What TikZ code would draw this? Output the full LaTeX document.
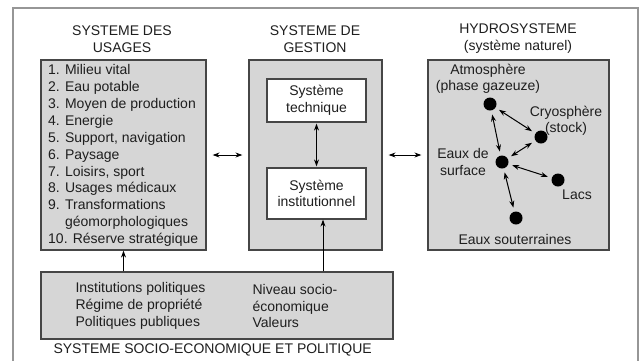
\documentclass[tikz,border=0pt]{standalone}
\usepackage{fontspec}
\setmainfont{Liberation Sans}
\usepackage{xcolor}
\definecolor{hsfill}{RGB}{214,214,214}
\definecolor{hsline}{RGB}{70,70,70}
\definecolor{hsframe}{RGB}{150,150,150}
\definecolor{hstext}{RGB}{30,30,30}
\usetikzlibrary{arrows.meta,positioning}
\tikzset{
  sysbox/.style={draw=hsline, fill=hsfill, line width=1.2pt, inner sep=0pt},
  subbox/.style={draw=hsline, fill=white, line width=1.2pt, align=center, minimum width=99pt, font=\fontsize{14}{16.5}\selectfont},
  ttl/.style={align=center, font=\fontsize{14}{17}\selectfont},
  lbl/.style={align=center, font=\fontsize{14}{16.5}\selectfont},
  dot/.style={circle, fill=black, minimum size=13pt, inner sep=0pt},
  arr/.style={-{Stealth[length=7pt,width=5pt]}, line width=1pt, draw=black},
  dbl/.style={{Stealth[length=7pt,width=5pt]}-{Stealth[length=7pt,width=5pt]}, line width=1pt, draw=black}
}
\begin{document}
\begin{tikzpicture}[x=1pt, y=-1pt, every node/.style={text=hstext}]
  \useasboundingbox (0,0) rectangle (639,360);
  \draw[hsframe, line width=1.2pt] (13,372) -- (13,8) -- (638,8) -- (638,372);
  % titles
  \node[ttl] (t1) at (122,39) {SYSTEME DES\\USAGES};
  \node[ttl] (t2) at (315,39) {SYSTEME DE\\GESTION};
  \node[ttl] (t3) at (518,39) {HYDROSYSTEME\\(système naturel)};
  \node[ttl, anchor=west] (t4) at (50,350) {SYSTEME SOCIO-ECONOMIQUE ET POLITIQUE};
  % usages
  \node[sysbox, minimum width=165pt, minimum height=190pt] (usa) at (123.5,155) {};
  \node[lbl, align=left, anchor=west, inner sep=0pt, font=\fontsize{14}{16.9}\selectfont] (list) at (48,155.5) {1. Milieu vital\\2. Eau potable\\3. Moyen de production\\4. Energie\\5. Support, navigation\\6. Paysage\\7. Loisirs, sport\\8. Usages médicaux\\9. Transformations\\\phantom{9. }géomorphologiques\\10. Réserve stratégique};
  % gestion
  \node[sysbox, minimum width=133pt, minimum height=190pt] (ges) at (315.5,155) {};
  \node[subbox, minimum height=43pt] (tech) at (316.5,100.5) {Système\\technique};
  \node[subbox, minimum height=51pt] (inst) at (316.5,193.5) {Système\\institutionnel};
  % hydrosysteme
  \node[sysbox, minimum width=181pt, minimum height=190pt] (hyd) at (518.5,155) {};
  \node[dot] (atm) at (490,104) {};
  \node[dot] (cryo) at (541,137) {};
  \node[dot] (surf) at (502,162) {};
  \node[dot] (lacs) at (558,180) {};
  \node[dot] (sout) at (516,218) {};
  \node[lbl] (latm) at (488,79) {Atmosphère\\(phase gazeuze)};
  \node[lbl] (lcryo) at (566,121) {Cryosphère\\(stock)};
  \node[lbl] (lsurf) at (463,162) {Eaux de\\surface};
  \node[lbl] (llacs) at (577,195) {Lacs};
  \node[lbl] (lsout) at (515,239) {Eaux souterraines};
  % socio-economique
  \node[sysbox, minimum width=352pt, minimum height=67pt] (soc) at (217,305.5) {};
  \node[lbl, align=left, anchor=west, font=\fontsize{14}{16.8}\selectfont] (pol) at (72,306) {Institutions politiques\\Régime de propriété\\Politiques publiques};
  \node[lbl, align=left, anchor=west, font=\fontsize{14}{16.8}\selectfont] (eco) at (249,306) {Niveau socio-\\économique\\Valeurs};
  % connectors
  \draw[dbl, shorten <=6pt, shorten >=6pt] (usa.east) -- (ges.west);
  \draw[dbl, shorten <=6pt, shorten >=6pt] (ges.east) -- (hyd.west);
  \draw[dbl, shorten <=1pt, shorten >=1pt] (tech) -- (inst);
  \draw[arr] (soc.north -| usa) -- (usa.south);
  \draw[arr] (soc.north -| 323,0) -- (inst.south -| 323,0);
  \draw[dbl, shorten <=4pt, shorten >=4pt] (atm) -- (surf);
  \draw[dbl, shorten <=4pt, shorten >=4pt] (atm) -- (cryo);
  \draw[dbl, shorten <=4pt, shorten >=4pt] (cryo) -- (surf);
  \draw[dbl, shorten <=4pt, shorten >=4pt] (surf) -- (lacs);
  \draw[dbl, shorten <=4pt, shorten >=4pt] (surf) -- (sout);
\end{tikzpicture}
\end{document}
